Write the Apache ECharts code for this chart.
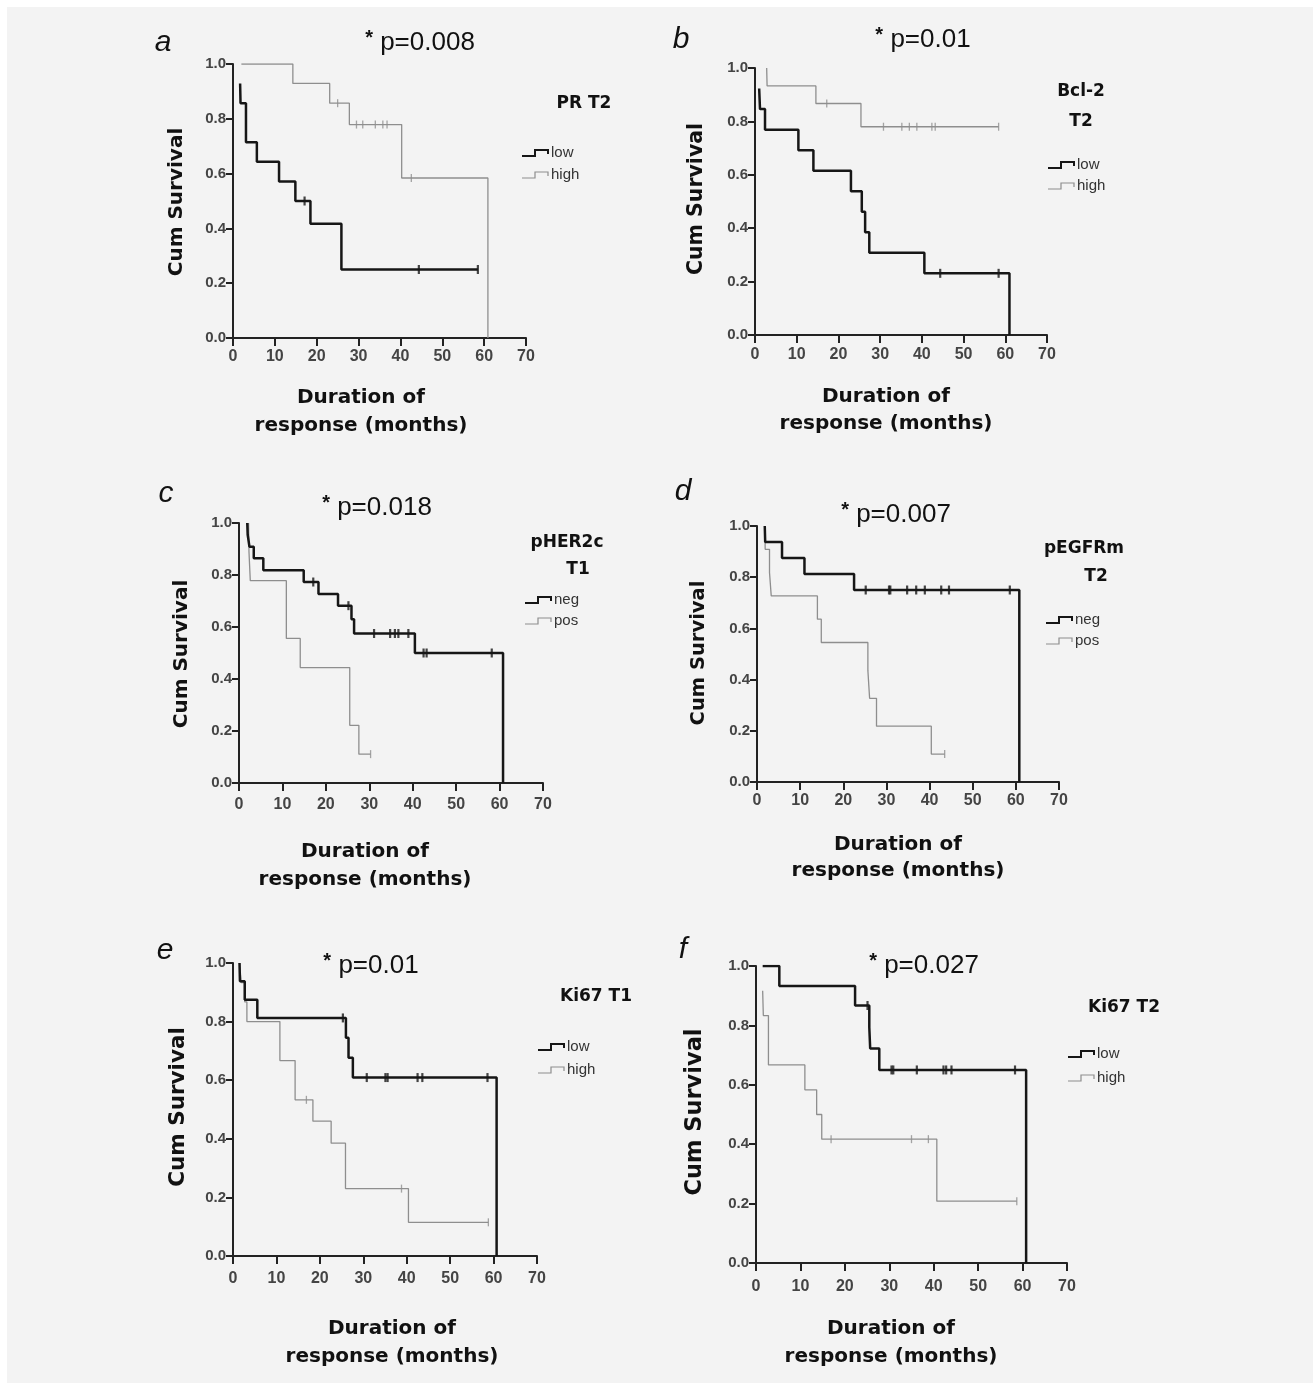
<!DOCTYPE html>
<html><head><meta charset="utf-8">
<script src="https://cdn.jsdelivr.net/npm/echarts@6/dist/echarts.min.js"></script>
<style>html,body{margin:0;padding:0;background:#fff}#c{width:1313px;height:1383px}</style>
</head><body><div id="c"></div>
<script>
// ---------------- DATA ----------------
const xTicks = [0, 10, 20, 30, 40, 50, 60, 70];
const yTicks = [0, 0.2, 0.4, 0.6, 0.8, 1.0];

const panelLetters = ['a', 'b', 'c', 'd', 'e', 'f'];
const pValues = ['p=0.008', 'p=0.01', 'p=0.018', 'p=0.007', 'p=0.01', 'p=0.027'];
const groupTitles = [['PR T2'], ['Bcl-2', 'T2'], ['pHER2c', 'T1'], ['pEGFRm', 'T2'], ['Ki67 T1'], ['Ki67 T2']];
const groupLabels = [['low', 'high'], ['low', 'high'], ['neg', 'pos'], ['neg', 'pos'], ['low', 'high'], ['low', 'high']];

// (a) PR T2
const aLowT  = [1.7, 1.8, 3.1, 5.7, 11.0, 14.9, 18.5, 25.9, 58.5];
const aLowS  = [0.929, 0.857, 0.714, 0.643, 0.571, 0.500, 0.417, 0.250, 0.250];
const aLowC  = [17.1, 44.4, 58.5];
const aHighT = [2.0, 14.3, 23.1, 27.8, 40.3, 60.9];
const aHighS = [1.0, 0.929, 0.857, 0.779, 0.584, 0.0];
const aHighC = [25.0, 29.5, 31.0, 34.0, 35.8, 36.8, 42.6];

// (b) Bcl-2 T2
const bLowT  = [1.0, 1.2, 2.4, 10.4, 14.0, 23.0, 25.6, 26.4, 27.4, 40.6, 61.0];
const bLowS  = [0.923, 0.846, 0.769, 0.692, 0.615, 0.538, 0.462, 0.385, 0.308, 0.231, 0.0];
const bLowC  = [44.4, 58.4];
const bHighT = [2.8, 2.9, 14.6, 25.4, 58.4];
const bHighS = [1.0, 0.933, 0.867, 0.780, 0.780];
const bHighC = [17.2, 30.8, 35.2, 37.0, 38.8, 42.4, 43.2, 58.4];

// (c) pHER2c T1
const cNegT = [1.9, 2.0, 2.4, 3.4, 5.6, 14.9, 18.3, 22.8, 25.9, 26.5, 40.5, 60.8];
const cNegS = [1.0, 0.955, 0.909, 0.864, 0.818, 0.773, 0.727, 0.682, 0.630, 0.575, 0.500, 0.0];
const cNegC = [17.1, 25.2, 31.1, 34.8, 35.9, 36.7, 39.0, 42.5, 43.2, 58.2];
const cPosT = [2.2, 2.3, 2.6, 10.9, 14.1, 25.5, 27.6, 30.3];
const cPosS = [1.0, 0.889, 0.778, 0.556, 0.444, 0.222, 0.111, 0.111];
const cPosC = [30.3];

// (d) pEGFRm T2
const dNegT = [1.8, 1.9, 5.8, 11.0, 22.5, 60.8];
const dNegS = [1.0, 0.9375, 0.875, 0.8125, 0.75, 0.0];
const dNegC = [25.2, 30.6, 30.9, 34.8, 36.9, 38.9, 42.7, 44.5, 58.6];
const dPosT = [1.8, 1.9, 2.9, 3.3, 14.0, 14.9, 25.7, 26.1, 27.7, 40.4, 43.5];
const dPosS = [1.0, 0.909, 0.818, 0.727, 0.636, 0.545, 0.436, 0.327, 0.218, 0.109, 0.109];
const dPosC = [43.5];

// (e) Ki67 T1
const eLowT  = [1.5, 1.6, 2.7, 5.6, 26.0, 26.6, 27.6, 60.7];
const eLowS  = [1.0, 0.9375, 0.875, 0.8125, 0.745, 0.677, 0.609, 0.0];
const eLowC  = [25.3, 30.8, 35.1, 35.6, 42.5, 43.6, 58.6];
const eHighT = [1.5, 1.9, 2.7, 3.2, 10.8, 14.3, 18.4, 22.6, 25.9, 40.4, 58.8];
const eHighS = [1.0, 0.933, 0.867, 0.80, 0.667, 0.533, 0.46, 0.385, 0.23, 0.115, 0.115];
const eHighC = [16.9, 38.8, 58.8];

// (f) Ki67 T2
const fLowT  = [1.5, 5.25, 22.3, 25.5, 25.7, 27.75, 60.8];
const fLowS  = [1.0, 0.933, 0.867, 0.794, 0.722, 0.65, 0.0];
const fLowC  = [25.1, 30.5, 30.9, 36.2, 42.2, 42.8, 44.0, 58.3];
const fHighT = [1.5, 1.65, 2.8, 11.0, 13.65, 14.8, 40.7, 58.7];
const fHighS = [0.917, 0.833, 0.667, 0.583, 0.5, 0.417, 0.208, 0.208];
const fHighC = [16.9, 35.0, 38.8, 58.7];

const curves = [
  [[aLowT, aLowS, aLowC], [aHighT, aHighS, aHighC]],
  [[bLowT, bLowS, bLowC], [bHighT, bHighS, bHighC]],
  [[cNegT, cNegS, cNegC], [cPosT, cPosS, cPosC]],
  [[dNegT, dNegS, dNegC], [dPosT, dPosS, dPosC]],
  [[eLowT, eLowS, eLowC], [eHighT, eHighS, eHighC]],
  [[fLowT, fLowS, fLowC], [fHighT, fHighS, fHighC]]
];

// ---------------- LAYOUT ----------------
const layout = [
  {grid:[233, 64, 293, 274],  xm:11, letter:[163, 43],  p:[420, 43],  titles:[[584,104]],              leg:[522, 153, 175],  yName:[177, 202, 20], xName:[361, 398, 426]},
  {grid:[755, 68, 292, 267],  xm:12, letter:[681, 40],  p:[923, 40],  titles:[[1081,92],[1081,122]],   leg:[1048, 165, 186], yName:[697, 199, 20.5], xName:[886, 397, 424]},
  {grid:[239, 523, 304, 260], xm:14, letter:[166, 494], p:[377, 508], titles:[[567,543],[578,570]],    leg:[525, 600, 621],  yName:[182, 654, 20], xName:[365, 852, 880]},
  {grid:[757, 526, 302, 256], xm:11, letter:[683, 492], p:[896, 515], titles:[[1084,549],[1096,577]],  leg:[1046, 620, 641], yName:[699, 653, 19.5], xName:[898, 845, 871]},
  {grid:[233, 963, 304, 293], xm:15, letter:[165, 951], p:[371, 966], titles:[[596,997]],              leg:[538, 1047, 1070],yName:[178, 1107, 21.5], xName:[392, 1329, 1357]},
  {grid:[756, 966, 311, 297], xm:16, letter:[683, 950], p:[924, 966], titles:[[1124,1008]],            leg:[1068, 1054, 1078],yName:[695, 1112, 22.5], xName:[891, 1329, 1357]}
];

const BLACK = '#161616', GRAY = '#8e8e8e';
const tickFont = "'Liberation Sans',Arial,sans-serif";
const boldFont = "'DejaVu Sans',Verdana,sans-serif";

function stepAt(T, S, t) {
  let v = S[0];
  for (let i = 0; i < T.length; i++) if (T[i] <= t + 1e-9) v = S[i];
  return v;
}

const grids = [], xAxes = [], yAxes = [], series = [], elements = [];

elements.push({type:'rect', shape:{x:7, y:7, width:1306, height:1376}, style:{fill:'#f3f3f3'}, z:-10, silent:true});

layout.forEach((L, k) => {
  grids.push({left:L.grid[0], top:L.grid[1], width:L.grid[2], height:L.grid[3]});
  xAxes.push({
    gridIndex:k, type:'value', min:xTicks[0], max:xTicks[xTicks.length-1], interval:xTicks[1]-xTicks[0],
    axisLine:{show:true, onZero:false, lineStyle:{color:'#222', width:2}},
    axisTick:{show:true, length:8, lineStyle:{color:'#222', width:2}},
    splitLine:{show:false},
    axisLabel:{fontSize:16, color:'#444', fontFamily:tickFont, fontWeight:'bold', margin:L.xm}
  });
  yAxes.push({
    gridIndex:k, type:'value', min:yTicks[0], max:yTicks[yTicks.length-1], interval:yTicks[1]-yTicks[0],
    axisLine:{show:true, onZero:false, lineStyle:{color:'#222', width:2}},
    axisTick:{show:true, length:7, lineStyle:{color:'#222', width:2}},
    splitLine:{show:false},
    axisLabel:{fontSize:15, color:'#444', fontFamily:tickFont, fontWeight:'bold', margin:7,
      formatter: v => v.toFixed(1)}
  });
  // draw gray (group 2) first, black (group 1) on top
  [1, 0].forEach(g => {
    const [T, S, C] = curves[k][g];
    const col = g === 0 ? BLACK : GRAY;
    series.push({
      type:'line', name:groupLabels[k][g], xAxisIndex:k, yAxisIndex:k, step:'end',
      data:T.map((t, i) => [t, S[i]]), showSymbol:false, symbol:'none',
      lineStyle:{color:col, width:g === 0 ? 2.5 : 1.3}, z: g === 0 ? 3 : 2, silent:true
    });
    series.push({
      type:'scatter', xAxisIndex:k, yAxisIndex:k,
      data:C.map(t => [t, stepAt(T, S, t)]),
      symbol:'rect', symbolSize:g === 0 ? [2.2, 9] : [1.3, 8],
      itemStyle:{color:col}, z: g === 0 ? 4 : 2, silent:true
    });
  });

  // panel letter
  elements.push({type:'text', x:L.letter[0], y:L.letter[1],
    style:{text:panelLetters[k], font:"italic 30px 'Liberation Sans',Arial,sans-serif", fill:'#111', align:'center', verticalAlign:'middle'}});
  // p value
  elements.push({type:'text', x:L.p[0], y:L.p[1],
    style:{text:'{s|*} ' + pValues[k], align:'center', verticalAlign:'middle',
      font:"26px 'Liberation Sans',Arial,sans-serif", fill:'#111',
      rich:{s:{font:"bold 20px 'Liberation Sans',Arial,sans-serif", fill:'#111', verticalAlign:'top', padding:[0,0,10,0]}}}});
  // group titles
  groupTitles[k].forEach((t, i) => {
    elements.push({type:'text', x:L.titles[i][0], y:L.titles[i][1],
      style:{text:t, font:"bold 17px " + boldFont, fill:'#111', align:'center', verticalAlign:'middle'}});
  });
  // legend glyphs + labels
  [0, 1].forEach(g => {
    const x0 = L.leg[0], yc = L.leg[1 + g];
    elements.push({type:'polyline', shape:{points:[[x0, yc+3], [x0+13, yc+3], [x0+13, yc-3], [x0+26, yc-3], [x0+26, yc+1]]},
      style:{stroke:g === 0 ? BLACK : GRAY, lineWidth:g === 0 ? 2 : 1.2, fill:null}});
    elements.push({type:'text', x:x0+29, y:yc,
      style:{text:groupLabels[k][g], font:"15px 'Liberation Sans',Arial,sans-serif", fill:'#333', align:'left', verticalAlign:'middle'}});
  });
  // y axis name
  elements.push({type:'text', x:L.yName[0], y:L.yName[1], rotation:Math.PI/2,
    style:{text:'Cum Survival', font:'bold ' + L.yName[2] + 'px ' + boldFont, fill:'#111', align:'center', verticalAlign:'middle'}});
  // x axis name
  elements.push({type:'text', x:L.xName[0], y:L.xName[1],
    style:{text:'Duration of', font:'bold 20px ' + boldFont, fill:'#111', align:'center', verticalAlign:'middle'}});
  elements.push({type:'text', x:L.xName[0], y:L.xName[2],
    style:{text:'response (months)', font:'bold 20px ' + boldFont, fill:'#111', align:'center', verticalAlign:'middle'}});
});

const chart = echarts.init(document.getElementById('c'), null, {renderer:'canvas'});
chart.setOption({
  animation:false,
  backgroundColor:'#ffffff',
  grid:grids, xAxis:xAxes, yAxis:yAxes, series:series,
  graphic:{elements:elements}
});
</script></body></html>
